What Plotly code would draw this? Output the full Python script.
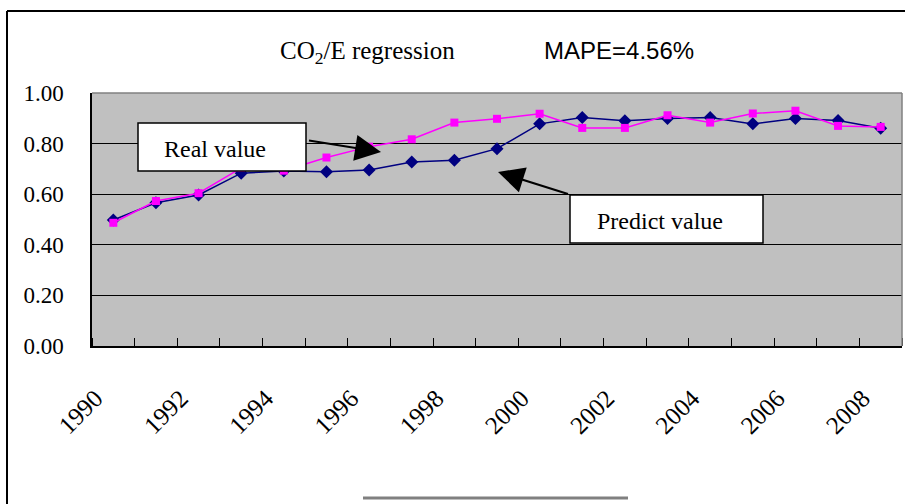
import plotly.graph_objects as go

years = list(range(1990, 2009))
real_value = [0.487, 0.573, 0.604, 0.704, 0.693, 0.745, 0.788, 0.817, 0.883, 0.898,
              0.918, 0.862, 0.862, 0.912, 0.883, 0.919, 0.930, 0.870, 0.866]
predict_value = [0.498, 0.566, 0.597, 0.683, 0.692, 0.689, 0.696, 0.727, 0.734, 0.780,
                 0.878, 0.903, 0.890, 0.899, 0.903, 0.878, 0.899, 0.891, 0.861]
label_years = years[::2]

W, H = 905, 504
L, R, T, B = 92, 3, 93, 158
PW, PH = W - L - R, H - T - B
LABEL_SHIFT = 0.42  # rotated labels sit left of their category centre


def px(x):
    return (x - L) / PW


def py(y):
    return (H - B - y) / PH


SERIF = "Liberation Serif"
SANS = "Liberation Sans"

fig = go.Figure()
fig.add_trace(go.Scatter(
    x=years, y=predict_value, mode="lines+markers", name="Predict value",
    line=dict(color="#000080", width=1.5),
    marker=dict(symbol="diamond", size=10, color="#000080"),
))
fig.add_trace(go.Scatter(
    x=years, y=real_value, mode="lines+markers", name="Real value",
    line=dict(color="#FF00FF", width=1.5),
    marker=dict(symbol="square", size=8, color="#FF00FF"),
))

shapes = [
    dict(type="line", xref="paper", yref="paper", x0=0, x1=1, y0=1, y1=1,
         line=dict(color="#808080", width=1.5)),
    dict(type="line", xref="paper", yref="paper", x0=1, x1=1, y0=0, y1=1,
         line=dict(color="#808080", width=1.5)),
    dict(type="line", xref="paper", yref="paper", x0=px(7), x1=px(7), y0=py(11), y1=py(510),
         line=dict(color="black", width=2)),
    dict(type="line", xref="paper", yref="paper", x0=px(7), x1=px(910), y0=py(11), y1=py(11),
         line=dict(color="black", width=2)),
    dict(type="line", xref="paper", yref="paper", x0=px(363), x1=px(628), y0=py(498), y1=py(498),
         line=dict(color="#808080", width=3)),
    dict(type="rect", xref="paper", yref="paper", x0=px(138), x1=px(306), y0=py(123), y1=py(171),
         fillcolor="white", line=dict(color="black", width=1.5)),
    dict(type="rect", xref="paper", yref="paper", x0=px(570), x1=px(763), y0=py(195), y1=py(243),
         fillcolor="white", line=dict(color="black", width=1.5)),
]

annotations = [
    dict(text="CO<sub>2</sub>/E regression", xref="paper", yref="paper", x=px(367), y=py(52),
         xanchor="center", yanchor="middle", showarrow=False, font=dict(family=SERIF, size=25, color="black")),
    dict(text="MAPE=4.56%", xref="paper", yref="paper", x=px(619), y=py(50),
         xanchor="center", yanchor="middle", showarrow=False, font=dict(family=SANS, size=24, color="black")),
    dict(text="Real value", xref="paper", yref="paper", x=px(215), y=py(149),
         xanchor="center", yanchor="middle", showarrow=False, font=dict(family=SERIF, size=24, color="black")),
    dict(text="Predict value", xref="paper", yref="paper", x=px(660), y=py(221),
         xanchor="center", yanchor="middle", showarrow=False, font=dict(family=SERIF, size=24, color="black")),
    dict(text=" ", xref="paper", yref="paper", x=px(381), y=py(152), ax=306 - 381, ay=140 - 152,
         showarrow=True, arrowhead=2, arrowsize=2.6, arrowwidth=2, arrowcolor="black", standoff=0),
    dict(text=" ", xref="paper", yref="paper", x=px(498), y=py(172), ax=571 - 498, ay=195 - 172,
         showarrow=True, arrowhead=2, arrowsize=2.6, arrowwidth=2, arrowcolor="black", standoff=0),
]

fig.update_layout(
    width=W, height=H, margin=dict(l=L, r=R, t=T, b=B),
    paper_bgcolor="white", plot_bgcolor="#C0C0C0",
    showlegend=False, shapes=shapes, annotations=annotations,
    xaxis=dict(
        range=[1989.5, 2008.5], tickmode="array",
        tickvals=[y - LABEL_SHIFT for y in label_years],
        ticktext=[str(y) for y in label_years], tickangle=-45, ticks="",
        ticklabelstandoff=26,
        tickfont=dict(family=SERIF, size=25, color="black"),
        showgrid=False, zeroline=False, showline=True, linecolor="black", linewidth=1.5,
        minor=dict(tick0=1989.5, dtick=1, ticks="inside", ticklen=8, tickcolor="black",
                   tickwidth=1, showgrid=False),
    ),
    yaxis=dict(
        range=[0, 1], tickmode="linear", tick0=0, dtick=0.2, tickformat=".2f",
        ticks="", ticklabelstandoff=22,
        tickfont=dict(family=SERIF, size=23, color="black"),
        showgrid=True, gridcolor="black", gridwidth=1, zeroline=False,
        showline=True, linecolor="black", linewidth=1.5,
    ),
)

fig.write_html("out.html")
